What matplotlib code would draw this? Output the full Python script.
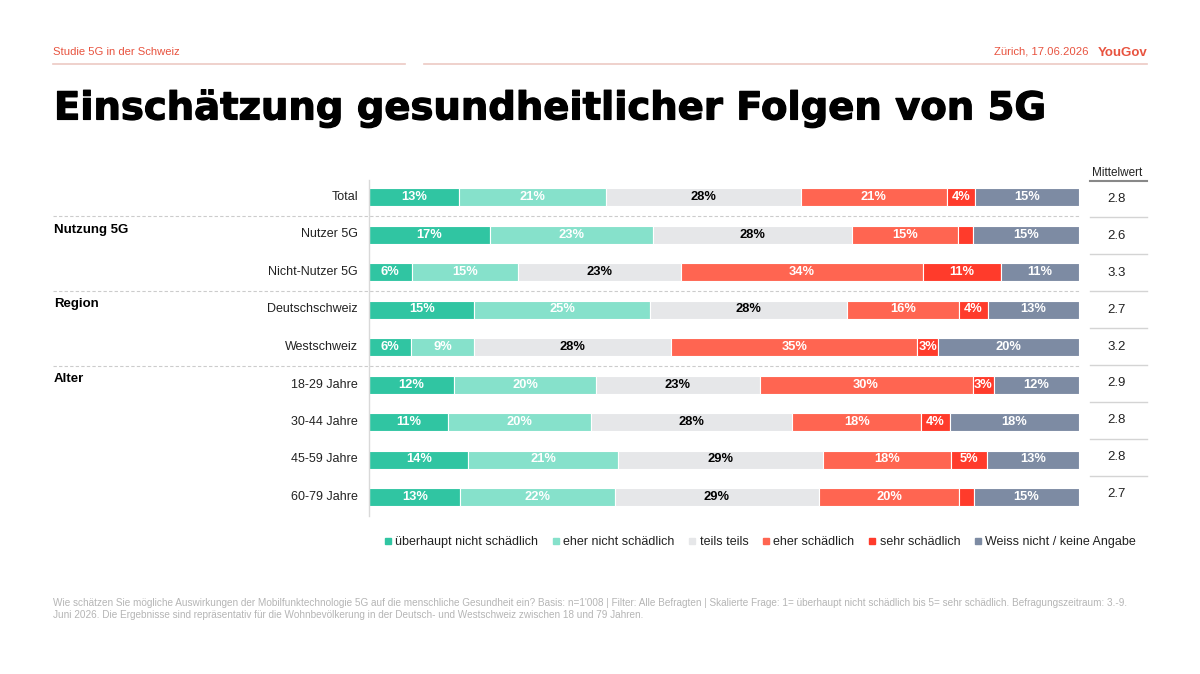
import matplotlib
matplotlib.use("Agg")
import matplotlib.pyplot as plt
import matplotlib.patheffects as pe
from matplotlib.lines import Line2D

plt.rcParams["font.family"] = ["Liberation Sans", "DejaVu Sans"]

W, H = 1200, 674

categories = ["überhaupt nicht schädlich", "eher nicht schädlich", "teils teils",
              "eher schädlich", "sehr schädlich", "Weiss nicht / keine Angabe"]
colors = ["#30c5a2", "#86e1cb", "#e6e7e9", "#ff6551", "#ff3b2b", "#7d8ba3"]
text_colors = ["white", "white", "black", "white", "white", "white"]

rows = ["Total", "Nutzer 5G", "Nicht-Nutzer 5G", "Deutschschweiz", "Westschweiz",
        "18-29 Jahre", "30-44 Jahre", "45-59 Jahre", "60-79 Jahre"]
ueberhaupt_nicht = [13, 17, 6, 15, 6, 12, 11, 14, 13]
eher_nicht = [21, 23, 15, 25, 9, 20, 20, 21, 22]
teils = [28, 28, 23, 28, 28, 23, 28, 29, 29]
eher = [21, 15, 34, 16, 35, 30, 18, 18, 20]
sehr = [4, 2, 11, 4, 3, 3, 4, 5, 2]
weiss_nicht = [15, 15, 11, 13, 20, 12, 18, 13, 15]
mittelwert = ["2.8", "2.6", "3.3", "2.7", "3.2", "2.9", "2.8", "2.8", "2.7"]

groups = [("Nutzung 5G", 1), ("Region", 3), ("Alter", 5)]

series = [ueberhaupt_nicht, eher_nicht, teils, eher, sehr, weiss_nicht]


def fx(x):
    return x / W


def fy(y):
    return 1 - y / H


fig = plt.figure(figsize=(12, 6.74), dpi=100)

# header
red = "#e8533f"
fig.text(fx(53), fy(52), "Studie 5G in der Schweiz", color=red, fontsize=8.1, va="center")
fig.text(fx(1088), fy(52), "Zürich, 17.06.2026", color=red, fontsize=8.1, va="center", ha="right")
fig.text(fx(1147), fy(53), "YouGov", color=red, fontsize=9.5, fontweight="bold", va="center", ha="right")
fig.add_artist(Line2D([fx(53), fx(405)], [fy(64), fy(64)], color="#ecc9c4", lw=1.2))
fig.add_artist(Line2D([fx(424), fx(1147)], [fy(64), fy(64)], color="#ecc9c4", lw=1.2))

title = fig.text(fx(54), fy(108), "Einschätzung gesundheitlicher Folgen von 5G",
                 fontsize=30, fontweight="bold", family="DejaVu Sans", va="center",
                 path_effects=[pe.withStroke(linewidth=0.9, foreground="black")])
fig.canvas.draw()
bb = title.get_window_extent()
title.set_fontsize(30 * (1045 - 54) / bb.width)

# bars axes, y in pixel units
top, bottom = 180, 516
ax = fig.add_axes([fx(369), fy(bottom), fx(1079) - fx(369), (bottom - top) / H])
ax.set_xlim(0, 100)
ax.set_ylim(bottom, top)
ax.axis("off")

row_y = [197 + i * 37.5 for i in range(len(rows))]
mw_y = [199 + i * 36.9 for i in range(len(rows))]
bar_h = 18

for i, y in enumerate(row_y):
    vals = [s[i] for s in series]
    total = sum(vals)
    left = 0
    for k, v in enumerate(vals):
        w = v * 100 / total
        ax.barh(y, w, left=left, height=bar_h, color=colors[k], edgecolor="white", linewidth=0.8)
        if v >= 3:
            ax.text(left + w / 2, y, f"{v}%", ha="center", va="center", color=text_colors[k],
                    fontsize=9.3, fontweight="bold")
        left += w
    fig.text(fx(358), fy(y), rows[i], ha="right", va="center", fontsize=9, color="#222222")
    fig.text(fx(1117), fy(mw_y[i]), mittelwert[i], ha="center", va="center", fontsize=9.5, color="#222222")

# vertical axis line
fig.add_artist(Line2D([fx(369), fx(369)], [fy(180), fy(516)], color="#d9d9d9", lw=1))

# group labels and dashed separators
for name, idx in groups:
    sep = (row_y[idx - 1] + row_y[idx]) / 2
    fig.add_artist(Line2D([fx(53), fx(1079)], [fy(sep), fy(sep)], color="#cccccc", lw=0.8,
                          linestyle=(0, (3, 2))))
    fig.text(fx(54), fy(row_y[idx] - 5), name, fontsize=9.5, fontweight="bold", va="center")

# Mittelwert column
fig.text(fx(1117), fy(173), "Mittelwert", ha="center", va="center", fontsize=8.5, color="#222222")
fig.add_artist(Line2D([fx(1090), fx(1147)], [fy(181), fy(181)], color="#888888", lw=1.5))
for i in range(len(rows) - 1):
    sep = (mw_y[i] + mw_y[i + 1]) / 2
    fig.add_artist(Line2D([fx(1090), fx(1147)], [fy(sep), fy(sep)], color="#d4d4d4", lw=1))

# legend
handles = [Line2D([], [], marker="s", linestyle="none", color=c, markersize=5) for c in colors]
fig.legend(handles, categories, loc="center", bbox_to_anchor=(fx(760), fy(542)), ncol=6,
           frameon=False, fontsize=9, handlelength=0.6, handletextpad=0.3, columnspacing=1.1,
           labelcolor="#222222")

# footnote
note = ("Wie schätzen Sie mögliche Auswirkungen der Mobilfunktechnologie 5G auf die menschliche Gesundheit ein? "
        "Basis: n=1'008 | Filter: Alle Befragten | Skalierte Frage: 1= überhaupt nicht schädlich bis 5= sehr schädlich. "
        "Befragungszeitraum: 3.-9.\nJuni 2026. Die Ergebnisse sind repräsentativ für die Wohnbevölkerung in der "
        "Deutsch- und Westschweiz zwischen 18 und 79 Jahren.")
fig.text(fx(53), fy(598), note, fontsize=7.2, color="#b5b5b5", va="top", linespacing=1.25)

fig.savefig("out.png", dpi=100)
